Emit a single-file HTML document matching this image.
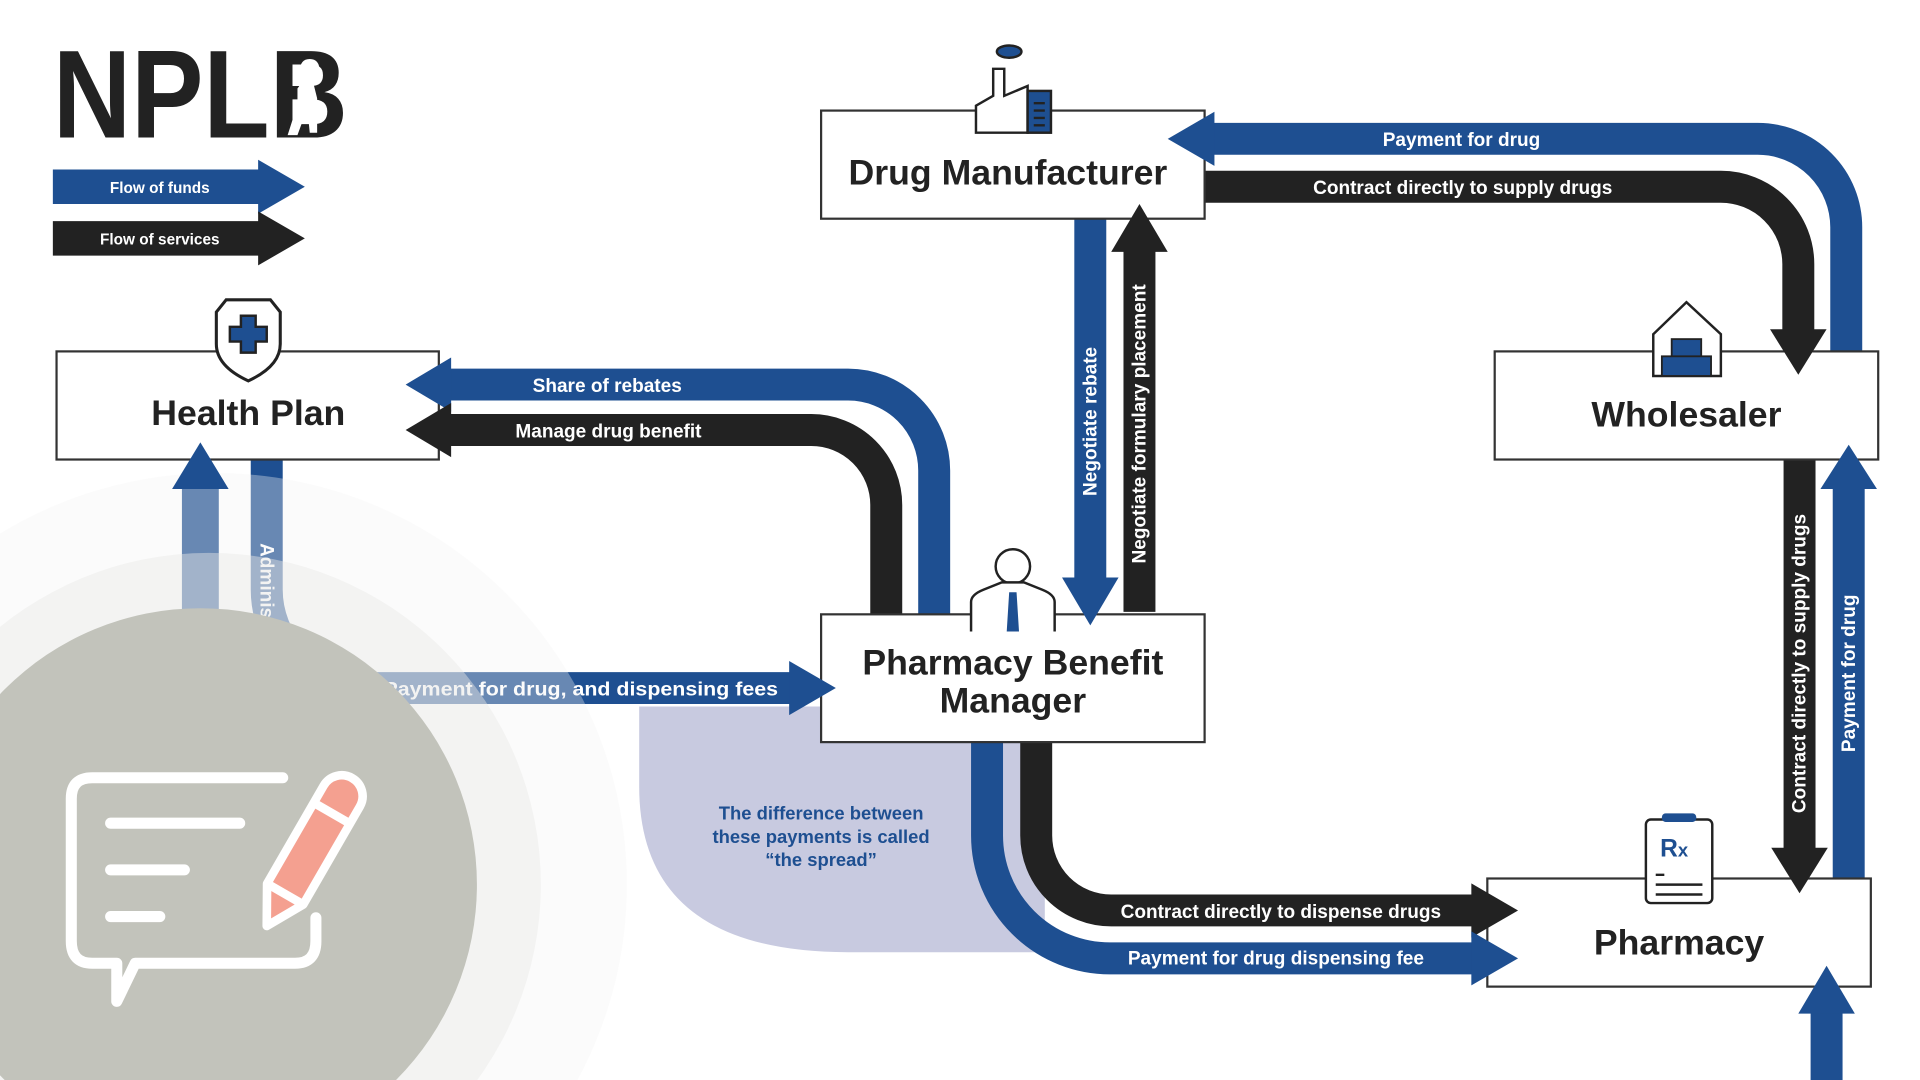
<!DOCTYPE html>
<html><head><meta charset="utf-8"><style>html,body{margin:0;padding:0;background:#fff;overflow:hidden;width:1920px;height:1080px}svg{display:block;position:absolute;left:0;top:0;overflow:hidden}text{font-family:"Liberation Sans",sans-serif;font-weight:bold}</style></head>
<body>
<svg width="1920" height="1080" viewBox="0 0 1562 879" preserveAspectRatio="none" xmlns="http://www.w3.org/2000/svg">
<g fill="none" stroke-linecap="butt">
<path d="M365 313 H690 A70 70 0 0 1 760 383 V500" stroke="#1e4f91" stroke-width="26"/>
<path d="M365 350 H660 A61 61 0 0 1 721 411 V500" stroke="#222" stroke-width="26"/>
<path d="M985 113 H1430 A72 72 0 0 1 1502 185 V286" stroke="#1e4f91" stroke-width="26"/>
<path d="M980 152 H1400 A63 63 0 0 1 1463 215 V270" stroke="#222" stroke-width="26"/>
<path d="M887 178 V472" stroke="#1e4f91" stroke-width="26"/>
<path d="M927 498 V203" stroke="#222" stroke-width="26"/>
<path d="M1464 374 V692" stroke="#222" stroke-width="26"/>
<path d="M1504 715 V396" stroke="#1e4f91" stroke-width="26"/>
<path d="M1486 879 V823" stroke="#1e4f91" stroke-width="26"/>
</g>
<path d="M520 575 H850 V775 H690 Q520 775 520 640 Z" fill="#c8cae0"/>
<g fill="none">
<path d="M843 604 V680 A61 61 0 0 0 904 741 H1198" stroke="#222" stroke-width="26"/>
<path d="M803 604 V680 A100 100 0 0 0 903 780 H1198" stroke="#1e4f91" stroke-width="26"/>
<path d="M200 560 H645" stroke="#1e4f91" stroke-width="26"/>
<path d="M217 374 V480 A80 80 0 0 0 297 560" stroke="#1e4f91" stroke-width="26"/>
<path d="M163 879 V396" stroke="#1e4f91" stroke-width="30"/>
</g>
<g fill="#fff" font-size="15.5" text-anchor="middle">
<text x="494" y="319">Share of rebates</text>
<text x="495" y="356">Manage drug benefit</text>
<text x="1189" y="119">Payment for drug</text>
<text x="1190" y="158">Contract directly to supply drugs</text>
<text x="1042" y="747">Contract directly  to dispense drugs</text>
<text x="1038" y="785">Payment for drug dispensing fee</text>
<text x="312" y="566" text-anchor="start" textLength="321" lengthAdjust="spacingAndGlyphs">Payment for drug, and dispensing fees</text>
<text transform="translate(892,343) rotate(-90)">Negotiate rebate</text>
<text transform="translate(932,345) rotate(-90)">Negotiate formulary placement</text>
<text transform="translate(1469,540) rotate(-90)">Contract directly to supply drugs</text>
<text transform="translate(1509,548) rotate(-90)">Payment for drug</text>
<text transform="translate(212,442) rotate(90)" text-anchor="start">Administrative fees</text>
</g>
<circle cx="175" cy="720" r="335" fill="#f4f4f4" opacity="0.35"/>
<circle cx="170" cy="720" r="270" fill="#e8e8e6" opacity="0.45"/>
<circle cx="163" cy="720" r="225" fill="#c2c3bb"/>
<g fill="none" stroke="#fff" stroke-width="9" stroke-linecap="round" stroke-linejoin="round">
<path d="M230 633 H75 Q58 633 58 650 V766 Q58 784 75 784 H95 V815 L110 784 H240 Q257 784 257 766 V747"/>
<path d="M90 670 H195 M90 708 H150 M90 746 H130"/>
</g>
<g transform="translate(278,648) rotate(30)">
<path d="M-17 0 A17 17 0 0 1 17 0 V92 L0 122 L-17 92 Z" fill="#f4a090" stroke="#fff" stroke-width="7" stroke-linejoin="round"/>
<path d="M-17 16 H17 M-17 92 H17" stroke="#fff" stroke-width="7"/>
</g>
<g fill="#1e4f91" font-size="15" text-anchor="middle">
<text x="668" y="667">The difference between</text>
<text x="668" y="686">these payments is called</text>
<text x="668" y="705">“the spread”</text>
</g>
<g fill="#fff" stroke="#333" stroke-width="1.8">
<rect x="46" y="286" width="311" height="88"/>
<rect x="668" y="90" width="312" height="88"/>
<rect x="1216" y="286" width="312" height="88"/>
<rect x="668" y="500" width="312" height="104"/>
<rect x="1210" y="715" width="312" height="88"/>
</g>
<g fill="#222" font-size="29" text-anchor="middle">
<text x="202" y="346">Health Plan</text>
<text x="820" y="150">Drug Manufacturer</text>
<text x="1372" y="347">Wholesaler</text>
<text x="824" y="549">Pharmacy Benefit</text>
<text x="824" y="580">Manager</text>
<text x="1366" y="777">Pharmacy</text>
</g>
<g>
<polygon points="330,313 367,291 367,335" fill="#1e4f91"/>
<polygon points="330,350 367,328 367,372" fill="#222"/>
<polygon points="950,113 988,91 988,135" fill="#1e4f91"/>
<polygon points="1440,268 1486,268 1463,305" fill="#222"/>
<polygon points="864,470 910,470 887,509" fill="#1e4f91"/>
<polygon points="904,205 950,205 927,166" fill="#222"/>
<polygon points="1441,690 1487,690 1464,727" fill="#222"/>
<polygon points="1481,398 1527,398 1504,362" fill="#1e4f91"/>
<polygon points="1463,825 1509,825 1486,786" fill="#1e4f91"/>
<polygon points="1197,719 1197,763 1235,741" fill="#222"/>
<polygon points="1197,758 1197,802 1235,780" fill="#1e4f91"/>
<polygon points="642,538 642,582 680,560" fill="#1e4f91"/>
<polygon points="140,398 186,398 163,360" fill="#1e4f91"/>
</g>
<path d="M176 254 L184 244 H220 L228 254 V280 Q228 298 202 310 Q176 298 176 280 Z" fill="#fff" stroke="#222" stroke-width="2.5"/>
<path d="M196 257 H208 V266 H217 V278 H208 V287 H196 V278 H187 V266 H196 Z" fill="#1e4f91" stroke="#222" stroke-width="2"/>
<path d="M794 108 V86 L808 78 V56 H817 V78 L836 70 V108 Z" fill="#fff" stroke="#222" stroke-width="2"/>
<rect x="836" y="74" width="19" height="34" fill="#1e4f91" stroke="#222" stroke-width="2"/>
<path d="M841 84 H850 M841 90 H850 M841 96 H850 M841 102 H850" stroke="#222" stroke-width="2"/>
<ellipse cx="821" cy="42" rx="10" ry="5" fill="#1e4f91" stroke="#222" stroke-width="2"/>
<path d="M1345 272 L1372 246 L1400 272 V306 H1345 Z" fill="#fff" stroke="#222" stroke-width="2"/>
<rect x="1360" y="276" width="24" height="30" fill="#1e4f91" stroke="#222" stroke-width="1.5"/>
<rect x="1352" y="290" width="40" height="16" fill="#1e4f91" stroke="#222" stroke-width="1.5"/>
<circle cx="824" cy="461" r="14" fill="#fff" stroke="#222" stroke-width="2"/>
<path d="M790 514 V490 Q790 484 800 480 L815 474 H833 L848 480 Q858 484 858 490 V514" fill="#fff" stroke="#222" stroke-width="2"/>
<path d="M821 482 L827 482 L829 514 H819 Z" fill="#1e4f91"/>
<rect x="1339" y="667" width="54" height="68" rx="4" fill="#fff" stroke="#222" stroke-width="2"/>
<rect x="1352" y="662" width="28" height="7" rx="3" fill="#1e4f91"/>
<text x="1362" y="697" font-size="20" fill="#1e4f91" text-anchor="middle">R<tspan font-size="15">x</tspan></text>
<path d="M1347 712 H1354 M1347 720 H1385 M1347 728 H1385" stroke="#222" stroke-width="2"/>
<path d="M43 138 H210 V130 L248 152 L210 174 V166 H43 Z" fill="#1e4f91"/>
<path d="M43 180 H210 V172 L248 194 L210 216 V208 H43 Z" fill="#222"/>
<text x="130" y="157" font-size="12.5" fill="#fff" text-anchor="middle" font-weight="normal">Flow of funds</text>
<text x="130" y="199" font-size="12.5" fill="#fff" text-anchor="middle" font-weight="normal">Flow of services</text>
<text x="43" y="112" font-size="102" fill="#222" textLength="240" lengthAdjust="spacingAndGlyphs" style="font-weight:900">NPLB</text>
<path d="M244 58 Q244 48 252 48 Q260 48 260 58 Q260 66 255 68 L258 80 V108 H252 L250 88 L242 110 H234 L242 85 V72 Q246 68 244 58 Z" fill="#fff"/>
</svg>
</body></html>
